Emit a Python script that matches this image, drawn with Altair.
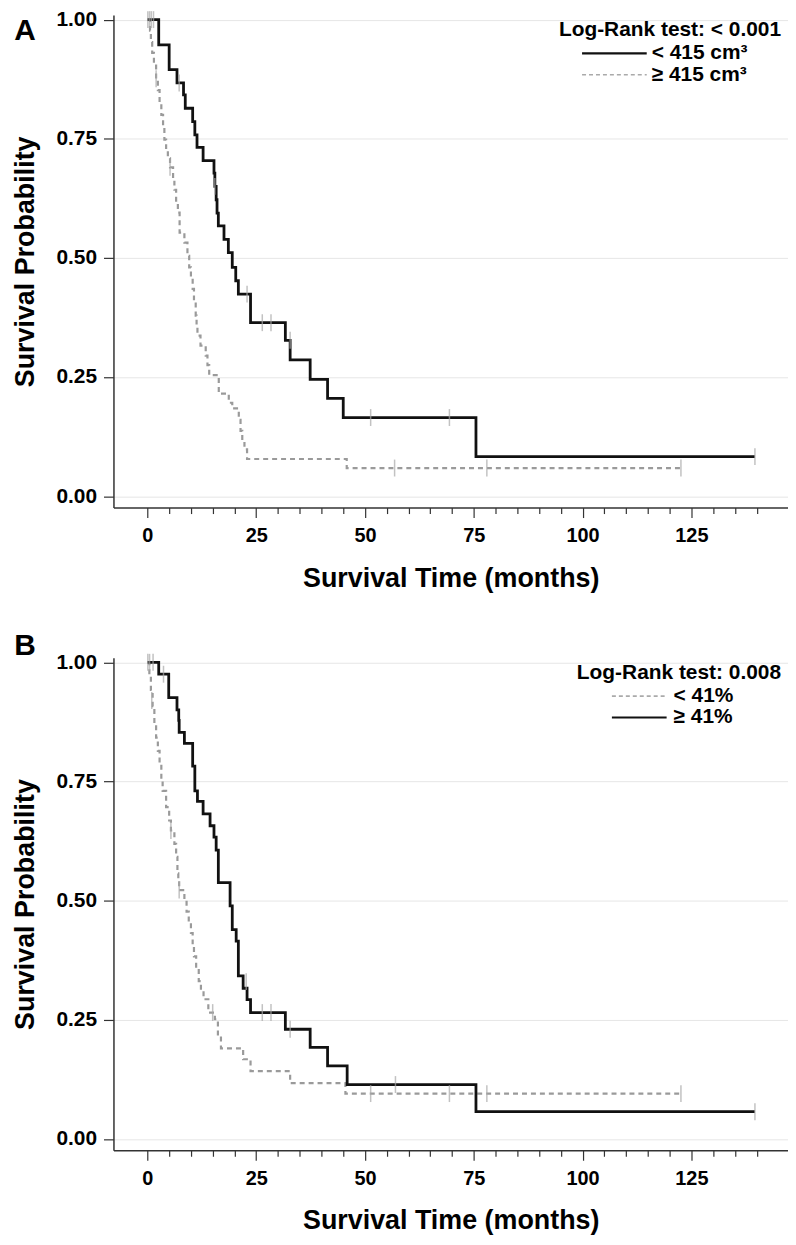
import altair as alt
import pandas as pd

# ---------------- data ----------------
# Panel A: tumour volume
A_LOW_T = [0, 2.6, 5.0, 6.8, 8.3, 8.7, 10.4, 10.9, 11.4, 12.8, 15.3, 15.5, 15.8, 16.0, 16.3,
           17.6, 18.6, 19.5, 20.3, 20.9, 23.7, 31.7, 32.8, 37.4, 41.4, 45.0, 75.5, 139.6]
A_LOW_S = [1.0, 0.947, 0.895, 0.867, 0.842, 0.814, 0.786, 0.758, 0.732, 0.704, 0.678, 0.650, 0.622, 0.594, 0.567,
           0.539, 0.511, 0.480, 0.452, 0.424, 0.364, 0.327, 0.286, 0.245, 0.205, 0.165, 0.083, 0.083]
A_HIGH_T = [0, 0.6, 0.8, 1.1, 1.5, 2.0, 2.4, 2.8, 3.2, 3.6, 3.9, 4.3, 4.7, 5.2, 5.9, 6.2, 6.6, 7.0, 7.4,
            8.5, 9.2, 9.6, 10.0, 10.4, 10.7, 11.1, 11.3, 11.5, 12.2, 13.4, 13.8, 14.2, 16.4, 18.7, 19.5,
            21.0, 21.4, 21.8, 22.3, 22.9, 45.8, 122.6]
A_HIGH_S = [1.0, 0.977, 0.953, 0.930, 0.906, 0.876, 0.852, 0.824, 0.800, 0.776, 0.748, 0.725, 0.709, 0.690, 0.666,
            0.643, 0.620, 0.595, 0.553, 0.532, 0.504, 0.480, 0.458, 0.435, 0.410, 0.379, 0.358, 0.337, 0.316,
            0.295, 0.275, 0.254, 0.215, 0.196, 0.184, 0.160, 0.137, 0.114, 0.098, 0.078, 0.059, 0.059]
A_LOW_CENS_T = [7.3, 15.5, 22.9, 26.4, 28.4, 32.8, 51.3, 69.4, 139.6]
A_LOW_CENS_S = [0.867, 0.650, 0.424, 0.364, 0.364, 0.327, 0.165, 0.165, 0.083]
A_HIGH_CENS_T = [0.1, 0.5, 0.9, 1.4, 2.0, 5.2, 56.8, 78.0, 122.6]
A_HIGH_CENS_S = [1.0, 1.0, 1.0, 1.0, 0.876, 0.690, 0.059, 0.059, 0.059]
A_LEGEND = ["Log-Rank test: < 0.001", "< 415 cm³", "≥ 415 cm³"]

# Panel B: percentage
B_LOW_T = [0, 0.45, 0.8, 1.2, 1.6, 2.0, 2.4, 2.8, 3.2, 3.5, 4.3, 5.0, 5.4, 6.2, 6.6, 6.9, 7.1, 7.3,
           8.5, 9.0, 9.5, 10.0, 10.4, 10.7, 11.2, 11.8, 12.3, 12.9, 14.0, 15.5, 16.2, 16.9, 22.0, 23.7,
           32.8, 45.5, 122.6]
B_LOW_S = [1.0, 0.970, 0.942, 0.908, 0.869, 0.842, 0.814, 0.786, 0.758, 0.730, 0.696, 0.668, 0.647, 0.619,
           0.592, 0.557, 0.543, 0.522, 0.501, 0.477, 0.455, 0.432, 0.408, 0.383, 0.357, 0.331, 0.312, 0.293,
           0.265, 0.251, 0.215, 0.190, 0.167, 0.142, 0.117, 0.095, 0.095]
B_HIGH_T = [0, 2.6, 4.9, 6.8, 7.2, 7.3, 8.5, 10.4, 10.9, 11.5, 12.8, 14.4, 15.3, 15.8, 16.3, 19.0, 19.5,
            20.4, 20.9, 22.0, 22.9, 23.7, 31.7, 37.4, 41.4, 45.9, 75.5, 139.6]
B_HIGH_S = [1.0, 0.975, 0.926, 0.900, 0.878, 0.853, 0.830, 0.782, 0.730, 0.708, 0.682, 0.657, 0.633, 0.606,
            0.5375, 0.489, 0.439, 0.415, 0.342, 0.316, 0.292, 0.265, 0.230, 0.192, 0.153, 0.114, 0.057, 0.057]
B_LOW_CENS_T = [0.1, 0.5, 1.0, 1.3, 5.4, 7.3, 15.0, 51.3, 69.4, 78.0, 122.6]
B_LOW_CENS_S = [1.0, 1.0, 0.920, 1.0, 0.647, 0.522, 0.265, 0.095, 0.095, 0.095, 0.095]
B_HIGH_CENS_T = [3.7, 22.7, 26.4, 28.4, 32.8, 57.0, 139.6]
B_HIGH_CENS_S = [0.975, 0.330, 0.265, 0.265, 0.230, 0.114, 0.057]
B_LEGEND = ["Log-Rank test: 0.008", "< 41%", "≥ 41%"]

X_TICKS = list(range(0, 141, 5))
Y_TICKS = [0, 0.25, 0.5, 0.75, 1.0]

# ---------------- styling ----------------
FONT = "Liberation Sans, Arial, Helvetica, sans-serif"
NARROW = "Liberation Sans Narrow, Arial Narrow, Liberation Sans, sans-serif"
W, H = 678, 495
XS = alt.Scale(domain=[-7.8, 147.2], nice=False, zero=False)
YS = alt.Scale(domain=[-0.024, 1.0094], nice=False, zero=False)
BLACK, GRAY, CENS = "#111111", "#9a9a9a", "#a8a8a8"

x_axis = alt.Axis(
    values=X_TICKS, labelExpr="datum.value % 25 === 0 ? datum.label : ''",
    tickSize={"condition": {"test": "datum.value % 25 === 0", "value": 10}, "value": 6},
    grid=False, domainColor="#333", tickColor="#333", domainWidth=1.5, tickWidth=1.2,
    labelFont=NARROW, labelFontSize=20, labelFontWeight="bold", labelColor="black",
    labelPadding=8, labelFlush=False, labelOverlap=False, labelSeparation=0,
    title="Survival Time (months)", titleFont=FONT, titleFontSize=27, titleFontWeight="bold",
    titleColor="black", titlePadding=20,
)
y_axis = alt.Axis(
    values=Y_TICKS, format=".2f", tickSize=10, labelPadding=7,
    domainColor="#333", tickColor="#333", domainWidth=1.5, tickWidth=1.2,
    labelFont=FONT, labelFontSize=21, labelFontWeight="bold", labelColor="black",
    gridColor="#e6e6e6", gridWidth=1, labelOverlap=False,
    title="Survival Probability", titleFont=FONT, titleFontSize=27, titleFontWeight="bold",
    titleColor="black", titlePadding=16,
)


def enc_xy():
    return dict(x=alt.X("t:Q", scale=XS, axis=x_axis), y=alt.Y("s:Q", scale=YS, axis=y_axis))


def curve(t, s, color, dash, width):
    df = pd.DataFrame({"t": t, "s": s})
    mk = alt.Chart(df).mark_line(interpolate="step-after", color=color, strokeWidth=width,
                                 **({"strokeDash": dash} if dash else {}))
    return mk.encode(**enc_xy())


def censors(t, s):
    df = pd.DataFrame({"t": t, "s": s})
    return alt.Chart(df).mark_tick(orient="vertical", size=17, thickness=1.5, color=CENS).encode(**enc_xy())


one = pd.DataFrame({"k": [0]})


def text(label, x, y, align="left", size=21):
    return alt.Chart(one).mark_text(align=align, baseline="middle", font=FONT, fontSize=size,
                                    fontWeight="bold", color="black").encode(
        x=alt.value(x), y=alt.value(y), text=alt.value(label))


def sample(x1, x2, y, color, dash, width):
    return alt.Chart(one).mark_rule(color=color, strokeWidth=width,
                                    **({"strokeDash": dash} if dash else {})).encode(
        x=alt.value(x1), x2=alt.value(x2), y=alt.value(y))


panel_a = alt.layer(
    curve(A_HIGH_T, A_HIGH_S, GRAY, [5, 4], 2.2),
    curve(A_LOW_T, A_LOW_S, BLACK, None, 2.8),
    censors(A_LOW_CENS_T, A_LOW_CENS_S),
    censors(A_HIGH_CENS_T, A_HIGH_CENS_S),
    text(A_LEGEND[0], 671, 15, align="right"),
    sample(471, 536, 38.5, BLACK, None, 2.2),
    text(A_LEGEND[1], 541, 38.5),
    sample(471, 536, 60, "#aaaaaa", [4, 3], 1.6),
    text(A_LEGEND[2], 541, 60),
    text("A", -89, 16, align="center", size=30),
).properties(width=W, height=H)

panel_b = alt.layer(
    curve(B_LOW_T, B_LOW_S, GRAY, [5, 4], 2.2),
    curve(B_HIGH_T, B_HIGH_S, BLACK, None, 2.8),
    censors(B_HIGH_CENS_T, B_HIGH_CENS_S),
    censors(B_LOW_CENS_T, B_LOW_CENS_S),
    text(B_LEGEND[0], 671, 15, align="right"),
    sample(501, 556, 38.5, "#aaaaaa", [4, 3], 1.6),
    text(B_LEGEND[1], 563, 38.5),
    sample(501, 556, 60, BLACK, None, 2.2),
    text(B_LEGEND[2], 563, 60),
    text("B", -89, -12, align="center", size=30),
).properties(width=W, height=H)

chart = alt.vconcat(panel_a, panel_b, spacing=40,
                    padding={"top": -3, "left": 4, "right": 0, "bottom": 0}
                    ).configure_view(strokeWidth=0).configure_axisX(labelOverlap=False)

chart.save("out.html", embed_options={"renderer": "svg", "actions": False})
